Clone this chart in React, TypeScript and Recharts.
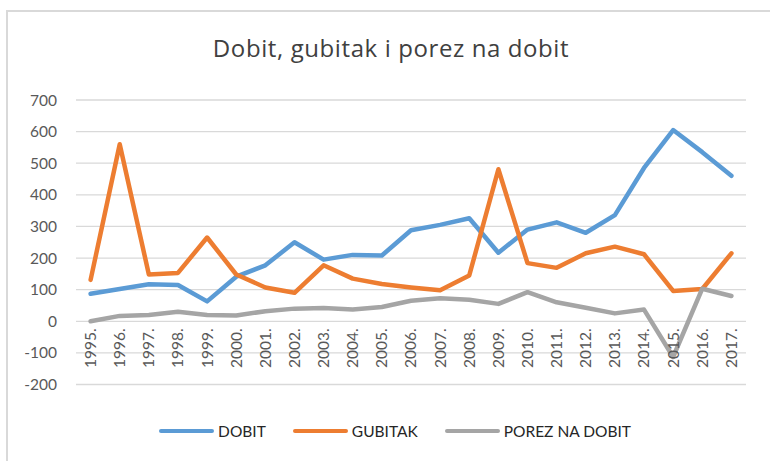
import { LineChart, Line, XAxis, YAxis, CartesianGrid } from 'recharts';

const years = [
    '1995.', '1996.', '1997.', '1998.', '1999.', '2000.', '2001.', '2002.',
    '2003.', '2004.', '2005.', '2006.', '2007.', '2008.', '2009.', '2010.',
    '2011.', '2012.', '2013.', '2014.', '2015.', '2016.', '2017.'
];
const dobit = [87, 102, 117, 115, 63, 141, 177, 250, 195, 210, 208, 288, 305, 326, 217, 290, 313, 280, 336, 485, 605, 535, 460];
const gubitak = [131, 560, 148, 153, 265, 148, 107, 90, 177, 135, 118, 107, 98, 145, 481, 184, 169, 215, 236, 212, 96, 102, 215];
const porez = [0, 17, 20, 30, 20, 18, 32, 40, 42, 37, 45, 65, 73, 68, 55, 92, 60, 43, 25, 37, -113, 103, 80];
const yTicks = [-200, -100, 0, 100, 200, 300, 400, 500, 600, 700];

const series = [
    { key: 'dobit', name: 'DOBIT', color: '#5B9BD5' },
    { key: 'gubitak', name: 'GUBITAK', color: '#ED7D31' },
    { key: 'porez', name: 'POREZ NA DOBIT', color: '#A5A5A5' }
];

const data = years.map((year, i) => ({
    year,
    dobit: dobit[i],
    gubitak: gubitak[i],
    porez: porez[i]
}));

const W = 770;
const H = 461;
const TOP = 100;
const X_AXIS_H = 40;
const BOTTOM = 36.5;
const FONT = 'Lato, "Open Sans", sans-serif';

// category labels sit under the zero line, like in Excel
const plotBottom = H - BOTTOM - X_AXIS_H;
const plotHeight = plotBottom - TOP;
const zeroY = plotBottom - plotHeight * (0 - yTicks[0]) / (yTicks[yTicks.length - 1] - yTicks[0]);

const YearTick = (props: any) => {
    const { x, payload } = props;
    const y = zeroY + 7;
    return (
        <text
            x={x}
            y={y}
            dy="0.35em"
            textAnchor="end"
            transform={`rotate(-90, ${x}, ${y})`}
            fill="#595959"
            fontSize={15.5}
            fontFamily={FONT}
        >
            {payload.value}
        </text>
    );
};

export default function App() {
    return (
        <div style={{ position: 'fixed', left: 0, top: 0, width: W, height: H, overflow: 'hidden', background: '#fff' }}>
            <div
                style={{
                    position: 'absolute',
                    left: 6,
                    top: 10,
                    width: W,
                    height: H,
                    borderLeft: '2px solid #d9d9d9',
                    borderTop: '2px solid #d9d9d9'
                }}
            />
            <div
                style={{
                    position: 'absolute',
                    left: 0,
                    top: 31,
                    width: 782,
                    textAlign: 'center',
                    fontFamily: '"Open Sans", sans-serif',
                    fontSize: 24,
                    letterSpacing: 0.6,
                    color: '#404040'
                }}
            >
                Dobit, gubitak i porez na dobit
            </div>
            <div style={{ position: 'absolute', left: 0, top: 0 }}>
                <LineChart width={W} height={H} data={data} margin={{ top: TOP, right: 24, left: 0, bottom: BOTTOM }}>
                    <CartesianGrid stroke="#d9d9d9" strokeWidth={1.3} vertical={false} />
                    <XAxis
                        dataKey="year"
                        height={X_AXIS_H}
                        axisLine={false}
                        tickLine={false}
                        interval={0}
                        padding={{ left: 14.6, right: 14.6 }}
                        tick={<YearTick />}
                    />
                    <YAxis
                        width={76}
                        domain={[-200, 700]}
                        ticks={yTicks}
                        axisLine={false}
                        tickLine={false}
                        tickSize={0}
                        tickMargin={19}
                        tick={{ fill: '#595959', fontSize: 15.5, fontFamily: FONT }}
                    />
                    {series.map(s => (
                        <Line
                            key={s.key}
                            dataKey={s.key}
                            name={s.name}
                            type="linear"
                            stroke={s.color}
                            strokeWidth={4.5}
                            strokeLinecap="round"
                            strokeLinejoin="round"
                            dot={false}
                            activeDot={false}
                            isAnimationActive={false}
                        />
                    ))}
                </LineChart>
            </div>
            <div
                style={{
                    position: 'absolute',
                    left: 0,
                    top: 422,
                    width: 790,
                    display: 'flex',
                    justifyContent: 'center',
                    gap: 27,
                    fontFamily: FONT,
                    fontSize: 15.5,
                    color: '#262626'
                }}
            >
                {series.map(s => (
                    <div key={s.key} style={{ display: 'flex', alignItems: 'center', gap: 4 }}>
                        <div style={{ width: 55, height: 4.5, borderRadius: 3, background: s.color }} />
                        <span>{s.name}</span>
                    </div>
                ))}
            </div>
        </div>
    );
}
